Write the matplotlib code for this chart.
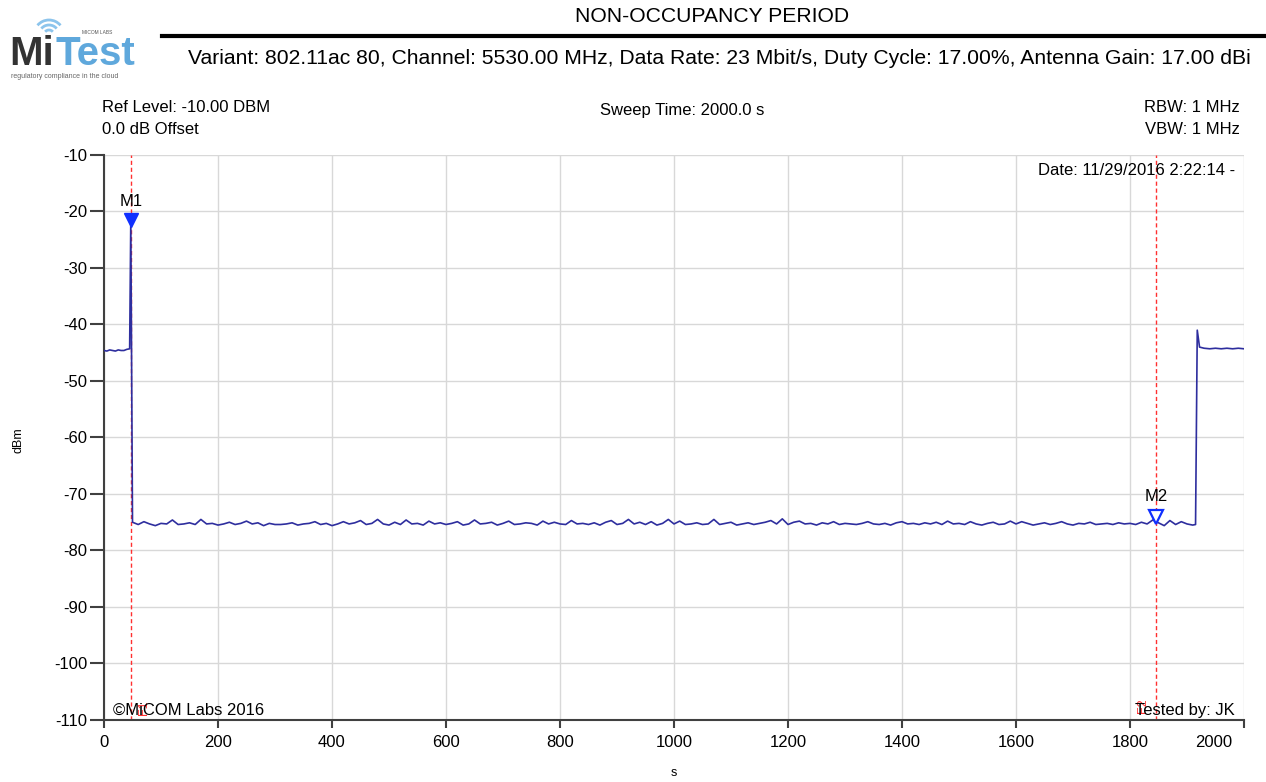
import numpy as np
import matplotlib
matplotlib.use("Agg")
import matplotlib.pyplot as plt
from matplotlib.patches import Arc
from matplotlib.transforms import ScaledTranslation

plt.rcParams['font.family'] = ['Liberation Sans', 'DejaVu Sans']
plt.rcParams['axes.unicode_minus'] = False

# traza antes de la ráfaga (s, dBm)
pre_t = [0, 5, 10, 15, 20, 25, 30, 35, 40, 45]
pre_v = [-44.6, -44.7, -44.5, -44.6, -44.7, -44.5, -44.6, -44.6, -44.4, -44.3]

# pico M1
peak_t = [47]
peak_v = [-21.5]

# piso de ruido durante el periodo de no ocupación (50..1910 s, cada 10 s)
floor_t = list(range(50, 1911, 10))
floor_v = [
    -75.0, -75.4, -74.9, -75.3, -75.6, -75.2, -75.3, -74.6, -75.4, -75.3,
    -75.1, -75.4, -74.5, -75.3, -75.2, -75.5, -75.3, -75.0, -75.4, -75.2,
    -74.8, -75.3, -75.1, -75.6, -75.2, -75.4, -75.4, -75.3, -75.1, -75.5,
    -75.3, -75.2, -74.9, -75.4, -75.2, -75.6, -75.3, -74.9, -75.3, -75.1,
    -74.7, -75.4, -75.2, -74.5, -75.3, -75.5, -75.0, -75.4, -74.6, -75.3,
    -75.2, -75.5, -74.8, -75.3, -75.1, -75.4, -75.2, -74.9, -75.5, -75.3,
    -74.6, -75.3, -75.2, -75.0, -75.5, -75.2, -74.8, -75.4, -75.3, -75.1,
    -75.2, -75.5, -74.8, -75.3, -75.0, -75.3, -75.4, -74.7, -75.3, -75.2,
    -75.4, -75.1, -75.5, -75.0, -74.7, -75.4, -75.2, -74.5, -75.3, -75.0,
    -75.4, -74.9, -75.5, -75.2, -74.5, -75.3, -74.8, -75.4, -75.3, -75.1,
    -75.4, -75.3, -74.5, -75.4, -75.2, -75.0, -75.5, -75.3, -75.1, -75.4,
    -75.2, -75.0, -74.7, -75.3, -74.4, -75.4, -75.0, -74.8, -75.3, -75.2,
    -75.5, -75.1, -75.3, -74.9, -75.4, -75.2, -75.3, -75.4, -75.2, -74.9,
    -75.3, -75.4, -75.2, -75.5, -75.1, -74.9, -75.3, -75.2, -75.4, -75.1,
    -75.3, -75.0, -75.4, -74.8, -75.3, -75.2, -75.4, -74.9, -75.3, -75.5,
    -75.2, -75.0, -75.4, -75.3, -74.8, -75.3, -74.9, -75.2, -75.5, -75.3,
    -75.1, -75.4, -75.2, -74.9, -75.3, -75.5, -75.2, -75.3, -75.0, -75.4,
    -75.3, -75.2, -75.4, -75.1, -75.3, -75.2, -75.4, -75.0, -75.3, -74.6,
    -75.1, -75.6, -74.7, -75.4, -74.9, -75.3, -75.5,
]

# vuelta del tráfico al final
post_t = [1915, 1918, 1922, 1930, 1940, 1950, 1960, 1970, 1980, 1990, 2000]
post_v = [-75.4, -41.0, -44.0, -44.2, -44.3, -44.2, -44.3, -44.2, -44.3, -44.2, -44.3]

# marcadores
m1 = (47, -21.5)
m2 = (1846, -74.0)

x_ticks = list(range(0, 2001, 200))
y_ticks = list(range(-110, -9, 10))

t = pre_t + peak_t + floor_t + post_t
v = pre_v + peak_v + floor_v + post_v

W, H = 1266, 782
fig = plt.figure(figsize=(W / 100, H / 100), dpi=100)
ax = fig.add_axes([104 / W, 62 / H, 1140 / W, 565 / H])

ax.plot(t, v, color='#2e2e9e', linewidth=1.2, zorder=3)

# lineas rojas verticales de los marcadores
for mx in (m1[0], m2[0]):
    ax.axvline(mx, color='#ff3030', linewidth=1, linestyle=(0, (3, 2)), zorder=2)

ax.plot(m1[0], m1[1], marker='v', markersize=10, color='#1030ff', zorder=4)
ax.plot(m2[0], m2[1], marker='v', markersize=10, markerfacecolor='white',
        markeredgecolor='#1030ff', markeredgewidth=1.6, zorder=4)
ax.text(m1[0], m1[1] + 2.0, 'M1', ha='center', va='bottom', fontsize=12)
ax.text(m2[0], m2[1] + 2.2, 'M2', ha='center', va='bottom', fontsize=12)

ax.set_xlim(0, 2000)
ax.set_ylim(-110, -10)
ax.set_xticks(x_ticks)
ax.set_yticks(y_ticks)
ax.grid(True, color='#d8d8d8', linewidth=1)
ax.set_axisbelow(True)
for s in ('top', 'right'):
    ax.spines[s].set_visible(False)
for s in ('left', 'bottom'):
    ax.spines[s].set_color('#404040')
    ax.spines[s].set_linewidth(1.5)
ax.tick_params(axis='y', direction='out', length=10, width=1.5, color='#404040', labelsize=12, pad=2)
ax.tick_params(axis='x', direction='out', length=6, width=1.5, color='#404040', labelsize=12, pad=5)
# ultima etiqueta desplazada como en el original
lbl = ax.get_xticklabels()[-1]
lbl.set_transform(lbl.get_transform() + ScaledTranslation(-0.30, 0, fig.dpi_scale_trans))

# etiquetas de ejes
fig.text(674 / W, 1 - 773 / H, 's', ha='center', va='center', fontsize=9)
fig.text(18 / W, 1 - 440 / H, 'dBm', ha='center', va='center', fontsize=9, rotation=90)

# textos dentro del grafico
ax.text(0.992, 0.985, 'Date: 11/29/2016 2:22:14 -', transform=ax.transAxes,
        ha='right', va='top', fontsize=12)
ax.text(0.008, 0.004, '©MiCOM Labs 2016', transform=ax.transAxes,
        ha='left', va='bottom', fontsize=12, zorder=5)
ax.text(0.992, 0.004, 'Tested by: JK', transform=ax.transAxes,
        ha='right', va='bottom', fontsize=12, zorder=5)
ax.text(m1[0] + 24, -107.8, 'F1', color='#ff3030', rotation=90, fontsize=9,
        ha='center', va='center', zorder=4)
ax.text(m2[0] - 24, -107.5, 'F2', color='#ff3030', rotation=90, fontsize=9,
        ha='center', va='center', zorder=4)

# cabecera
fig.text(712 / W, 1 - 17 / H, 'NON-OCCUPANCY PERIOD', ha='center', va='center', fontsize=15.2)
fig.add_artist(plt.Line2D([162 / W, 1], [1 - 36 / H, 1 - 36 / H], color='black', linewidth=3))
fig.text(1251 / W, 1 - 58 / H,
         'Variant: 802.11ac 80, Channel: 5530.00 MHz, Data Rate: 23 Mbit/s, '
         'Duty Cycle: 17.00%, Antenna Gain: 17.00 dBi',
         ha='right', va='center', fontsize=15.2)
fig.text(102 / W, 1 - 108 / H, 'Ref Level: -10.00 DBM', ha='left', va='center', fontsize=12)
fig.text(102 / W, 1 - 130 / H, '0.0 dB Offset', ha='left', va='center', fontsize=12)
fig.text(682 / W, 1 - 111 / H, 'Sweep Time: 2000.0 s', ha='center', va='center', fontsize=12)
fig.text(1240 / W, 1 - 108 / H, 'RBW: 1 MHz', ha='right', va='center', fontsize=12)
fig.text(1240 / W, 1 - 130 / H, 'VBW: 1 MHz', ha='right', va='center', fontsize=12)

# logo
fig.text(9 / W, 1 - 54 / H, 'Mi', ha='left', va='center', fontsize=29,
         fontweight='bold', color='#333333')
fig.text(56 / W, 1 - 54 / H, 'Test', ha='left', va='center', fontsize=29,
         fontweight='bold', color='#5fa8dc')
fig.text(82 / W, 1 - 33 / H, 'MICOM LABS', ha='left', va='center', fontsize=3.5,
         color='#555555')
fig.text(11 / W, 1 - 76 / H, 'regulatory compliance in the cloud', ha='left',
         va='center', fontsize=5, color='#666666')
for r in (5, 10, 15):
    fig.add_artist(Arc((49, H - 35), 2 * r, 2 * r, theta1=40, theta2=140,
                       transform=None, color='#8cc4ec', linewidth=2))

fig.savefig('out.png', dpi=100)
